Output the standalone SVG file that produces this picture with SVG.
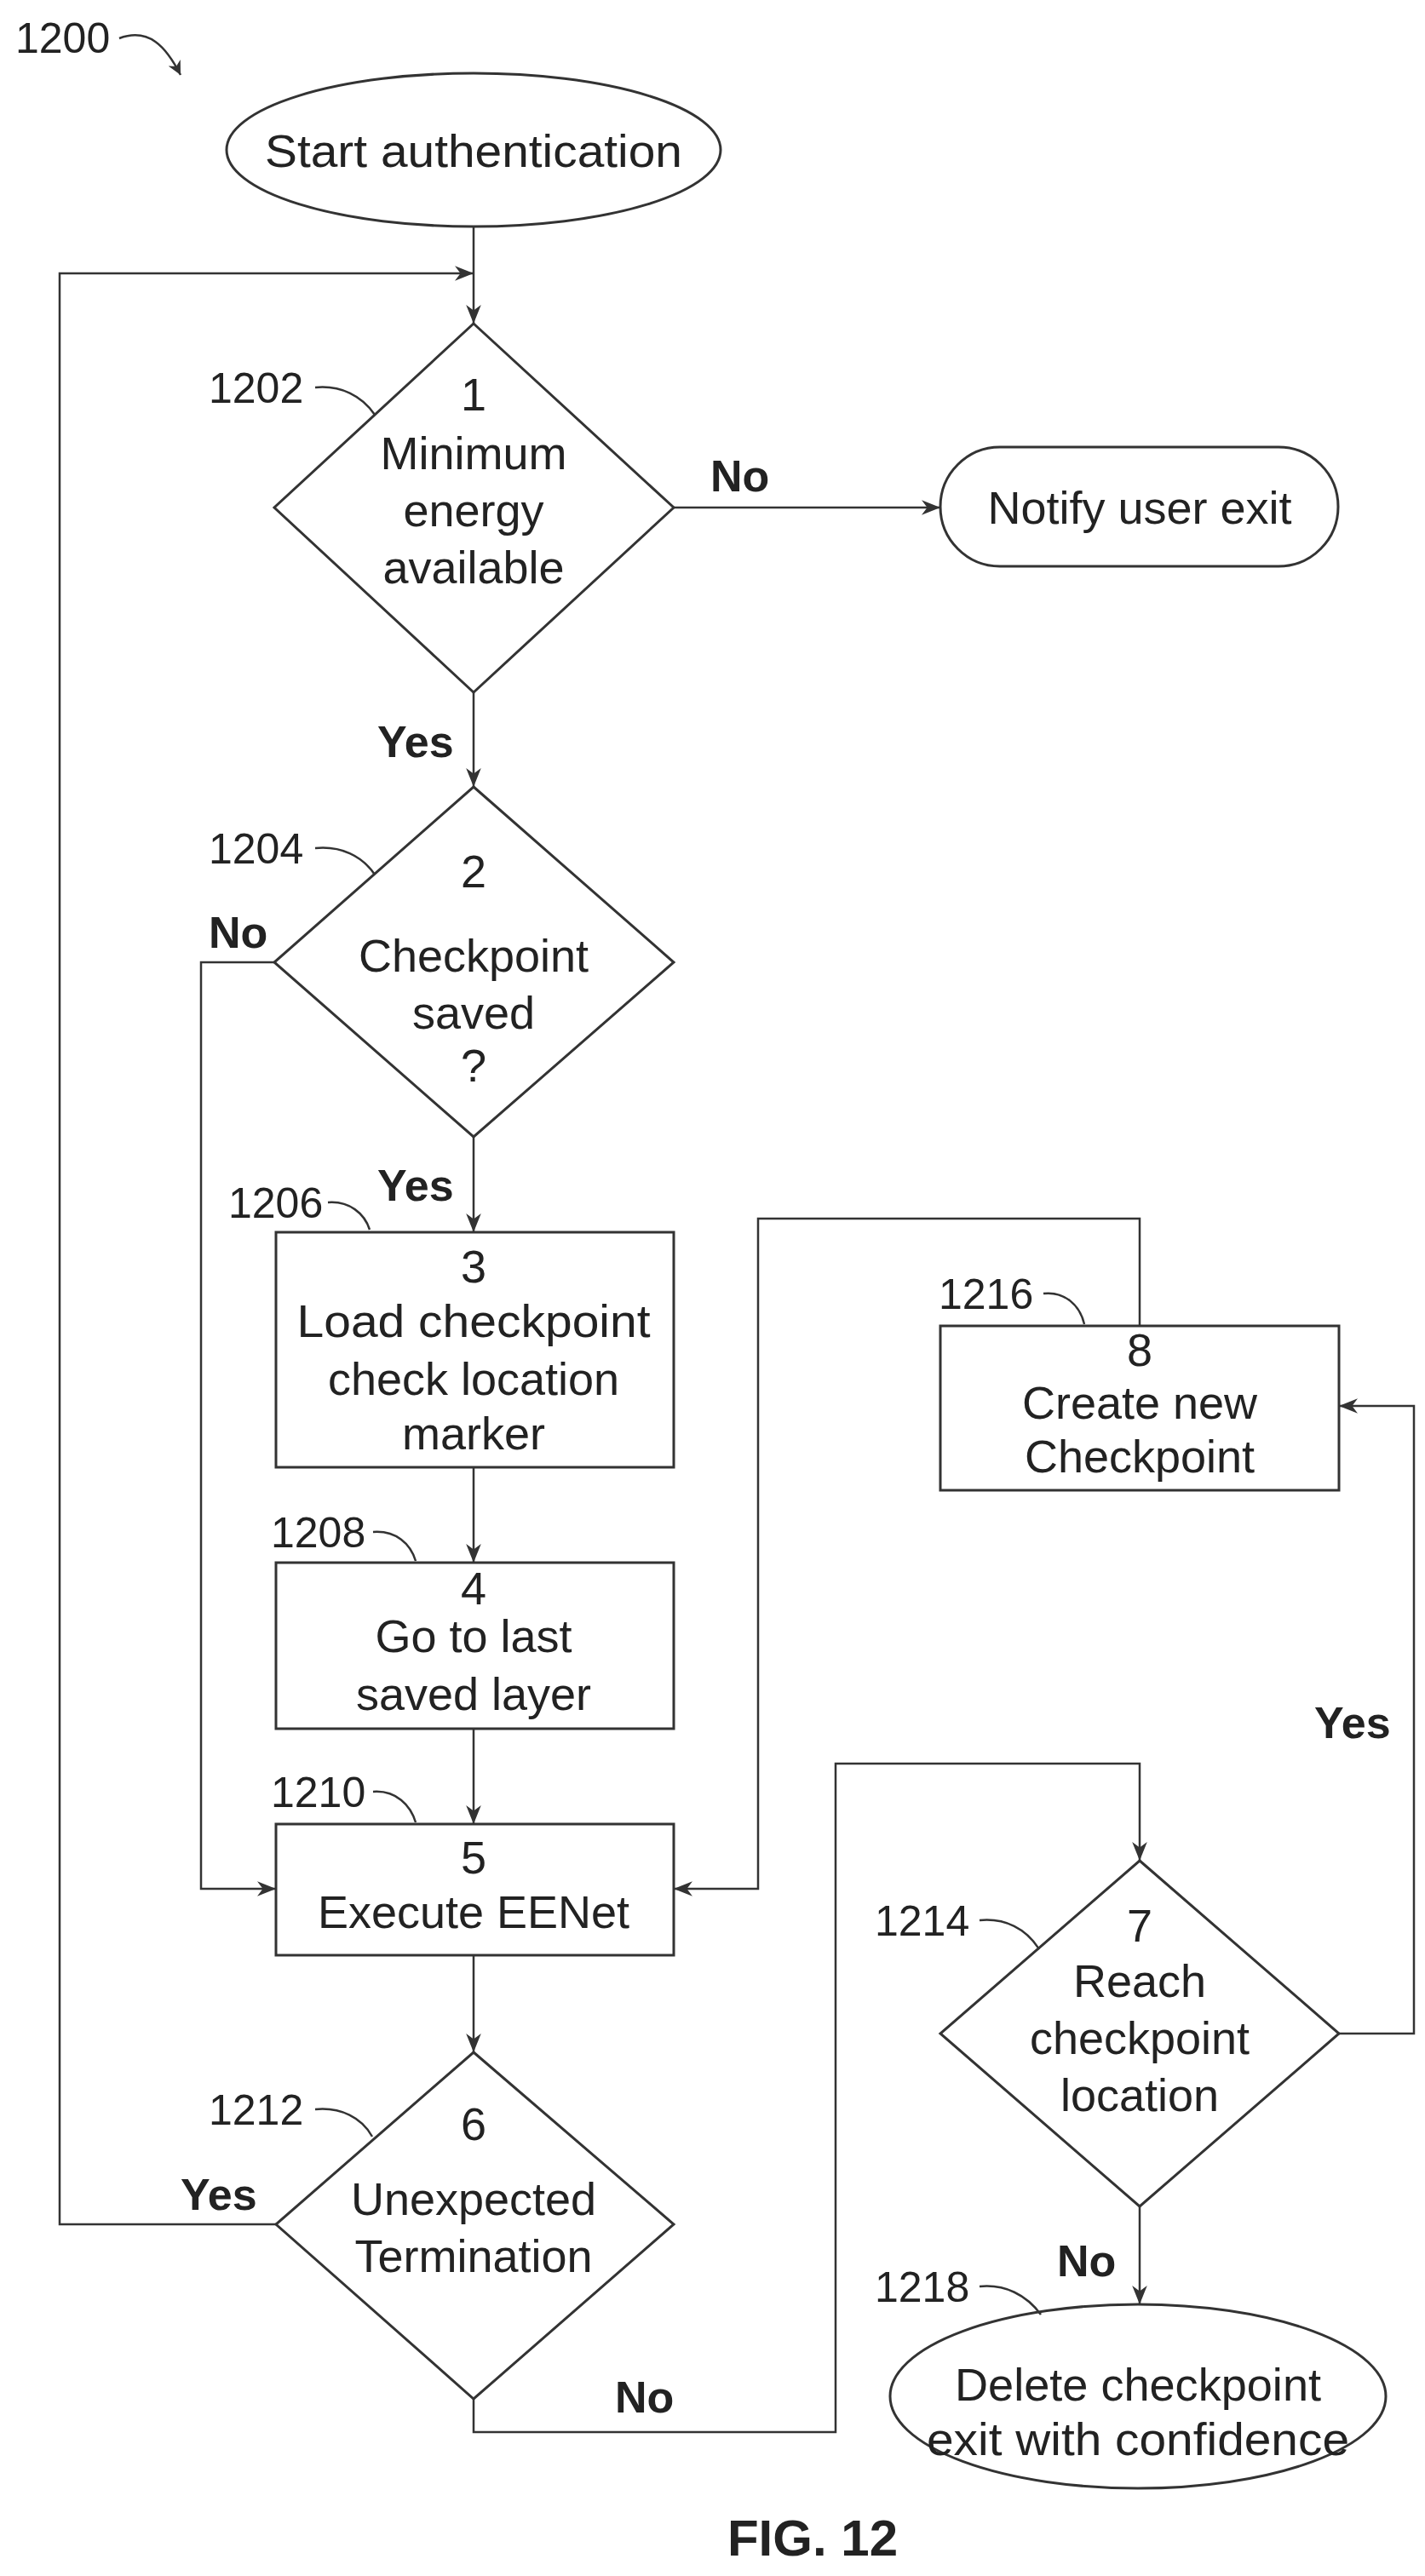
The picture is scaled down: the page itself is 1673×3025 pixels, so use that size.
<svg xmlns="http://www.w3.org/2000/svg" width="1673" height="3025" viewBox="0 0 1673 3025">
<style>
.s{fill:none;stroke:#333;stroke-width:3}
.t{font-family:"Liberation Sans",Arial,sans-serif;font-size:54px;fill:#222;text-anchor:middle}
.r{font-family:"Liberation Sans",Arial,sans-serif;font-size:50px;fill:#222}
.b{font-family:"Liberation Sans",Arial,sans-serif;font-size:52px;font-weight:bold;fill:#222}
.c{fill:none;stroke:#333;stroke-width:2.5;marker-end:url(#a)}
.l{fill:none;stroke:#333;stroke-width:2.5}
</style>
<defs>
<marker id="a" viewBox="0 0 10 10" refX="10" refY="5" markerWidth="22" markerHeight="22" orient="auto" markerUnits="userSpaceOnUse"><path d="M0,1 L10,5 L0,9 L3,5 Z" fill="#333"/></marker>
<marker id="m" viewBox="0 0 10 10" refX="10" refY="5" markerWidth="16" markerHeight="16" orient="auto" markerUnits="userSpaceOnUse"><path d="M0,0 L10,5 L0,10 L3,5 Z" fill="#333"/></marker>
</defs>
<text class="r" x="18" y="62">1200</text>
<path d="M140,45 C175,32 195,55 212,88" fill="none" stroke="#333" stroke-width="2.5" marker-end="url(#m)"/>
<g id="start"><ellipse class="s" cx="556" cy="176" rx="290" ry="90"/><text class="t" x="556" y="196" textLength="490" lengthAdjust="spacingAndGlyphs">Start authentication</text></g>
<g id="n1202"><path class="s" d="M556,380 L791,596 L556,813 L322,596 Z"/>
<text class="t" x="556" y="482">1</text><text class="t" x="556" y="551">Minimum</text><text class="t" x="556" y="618">energy</text><text class="t" x="556" y="685">available</text>
<text class="r" x="245" y="473">1202</text><path class="l" d="M370,455 C400,452 425,465 440,487"/></g>
<g id="notify"><rect class="s" x="1104" y="525" width="467" height="140" rx="70"/><text class="t" x="1338" y="615">Notify user exit</text></g>
<g id="n1204"><path class="s" d="M556,924 L791,1130 L556,1335 L322,1130 Z"/>
<text class="t" x="556" y="1042">2</text><text class="t" x="556" y="1141">Checkpoint</text><text class="t" x="556" y="1208">saved</text><text class="t" x="556" y="1270">?</text>
<text class="r" x="245" y="1014">1204</text><path class="l" d="M370,996 C400,993 425,1005 440,1027"/></g>
<g id="n1206"><rect class="s" x="324" y="1447" width="467" height="276"/>
<text class="t" x="556" y="1506">3</text><text class="t" x="556" y="1570" textLength="415" lengthAdjust="spacingAndGlyphs">Load checkpoint</text><text class="t" x="556" y="1638">check location</text><text class="t" x="556" y="1702">marker</text>
<text class="r" x="268" y="1430">1206</text><path class="l" d="M385,1412 C410,1410 428,1425 434,1444"/></g>
<g id="n1208"><rect class="s" x="324" y="1835" width="467" height="195"/>
<text class="t" x="556" y="1884">4</text><text class="t" x="556" y="1940">Go to last</text><text class="t" x="556" y="2008">saved layer</text>
<text class="r" x="318" y="1817">1208</text><path class="l" d="M438,1799 C465,1797 482,1813 488,1833"/></g>
<g id="n1210"><rect class="s" x="324" y="2142" width="467" height="154"/>
<text class="t" x="556" y="2200">5</text><text class="t" x="556" y="2264">Execute EENet</text>
<text class="r" x="318" y="2122">1210</text><path class="l" d="M438,2104 C465,2102 482,2120 488,2140"/></g>
<g id="n1212"><path class="s" d="M556,2410 L791,2612 L556,2817 L324,2612 Z"/>
<text class="t" x="556" y="2513">6</text><text class="t" x="556" y="2601">Unexpected</text><text class="t" x="556" y="2668">Termination</text>
<text class="r" x="245" y="2495">1212</text><path class="l" d="M370,2477 C400,2474 425,2487 437,2509"/></g>
<g id="n1216"><rect class="s" x="1104" y="1557" width="468" height="193"/>
<text class="t" x="1338" y="1604">8</text><text class="t" x="1338" y="1666">Create new</text><text class="t" x="1338" y="1729">Checkpoint</text>
<text class="r" x="1102" y="1537">1216</text><path class="l" d="M1225,1519 C1250,1516 1268,1533 1273,1555"/></g>
<g id="n1214"><path class="s" d="M1338,2185 L1572,2388 L1338,2591 L1104,2388 Z"/>
<text class="t" x="1338" y="2280">7</text><text class="t" x="1338" y="2345">Reach</text><text class="t" x="1338" y="2412">checkpoint</text><text class="t" x="1338" y="2479">location</text>
<text class="r" x="1027" y="2273">1214</text><path class="l" d="M1150,2255 C1180,2252 1205,2265 1220,2289"/></g>
<g id="n1218"><ellipse class="s" cx="1336" cy="2814" rx="291" ry="108"/>
<text class="t" x="1336" y="2819" textLength="430" lengthAdjust="spacingAndGlyphs">Delete checkpoint</text><text class="t" x="1336" y="2883" textLength="496" lengthAdjust="spacingAndGlyphs">exit with confidence</text>
<text class="r" x="1027" y="2703">1218</text><path class="l" d="M1150,2685 C1180,2682 1205,2695 1222,2718"/></g>
<g id="connectors">
<path class="c" d="M556,266 L556,380"/>
<path class="c" d="M324,2612 L70,2612 L70,321 L556,321"/>
<path class="c" d="M791,596 L1104,596"/>
<path class="c" d="M556,813 L556,924"/>
<path class="c" d="M322,1130 L236,1130 L236,2218 L324,2218"/>
<path class="c" d="M556,1335 L556,1447"/>
<path class="c" d="M556,1723 L556,1835"/>
<path class="c" d="M556,2030 L556,2142"/>
<path class="c" d="M556,2296 L556,2410"/>
<path class="c" d="M1338,1557 L1338,1431 L890,1431 L890,2218 L791,2218"/>
<path class="c" d="M1572,2388 L1660,2388 L1660,1651 L1572,1651"/>
<path class="c" d="M556,2817 L556,2856 L981,2856 L981,2071 L1338,2071 L1338,2185"/>
<path class="c" d="M1338,2591 L1338,2706"/>
</g>
<text class="b" x="834" y="577">No</text>
<text class="b" x="443" y="889">Yes</text>
<text class="b" x="245" y="1113">No</text>
<text class="b" x="443" y="1410">Yes</text>
<text class="b" x="1543" y="2041">Yes</text>
<text class="b" x="212" y="2595">Yes</text>
<text class="b" x="722" y="2833">No</text>
<text class="b" x="1241" y="2673">No</text>
<text class="b" x="954" y="3001" text-anchor="middle" style="font-size:60px">FIG. 12</text>
</svg>
